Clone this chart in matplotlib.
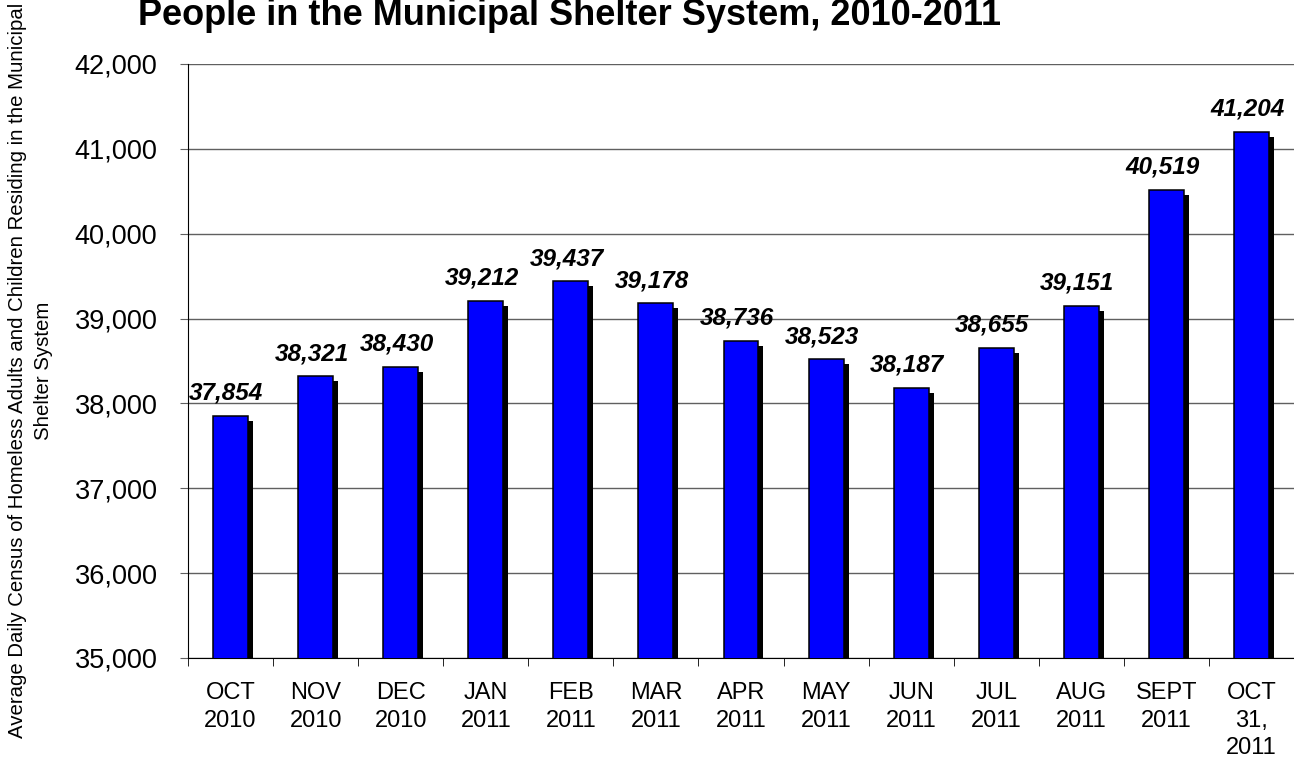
import matplotlib
matplotlib.use("Agg")
import matplotlib.pyplot as plt
import matplotlib.patheffects as pe
from matplotlib.ticker import FuncFormatter, FixedLocator
import numpy as np

months = ["OCT\n2010", "NOV\n2010", "DEC\n2010", "JAN\n2011", "FEB\n2011",
          "MAR\n2011", "APR\n2011", "MAY\n2011", "JUN\n2011", "JUL\n2011",
          "AUG\n2011", "SEPT\n2011", "OCT\n31,\n2011"]
census = [37854, 38321, 38430, 39212, 39437, 39178, 38736, 38523,
          38187, 38655, 39151, 40519, 41204]

title = "People in the Municipal Shelter System, 2010-2011"
ylabel = ("Average Daily Census of Homeless Adults and Children Residing in the Municipal\n"
          "Shelter System")

plt.rcParams['font.family'] = ['Liberation Sans', 'DejaVu Sans']

fig = plt.figure(figsize=(12.94, 7.59), dpi=100)
ax = fig.add_axes([0.1453, 0.1331, 0.8547, 0.7826])

x = np.arange(len(months))
bars = ax.bar(x, census, width=0.41, color='#0000ff', edgecolor='black',
              linewidth=1.1, zorder=3)
# drop shadow, bottom right
for b in bars:
    b.set_path_effects([pe.SimplePatchShadow(offset=(3.6, -3.6), shadow_rgbFace='black', alpha=1.0),
                        pe.Normal()])

for i, v in zip(x, census):
    ax.annotate(f"{v:,}", xy=(i, v), xytext=(-3, 11.5), textcoords='offset points',
                ha='center', va='baseline', fontsize=17.5, fontweight='bold',
                fontstyle='italic', zorder=4)

ax.set_ylim(35000, 42000)
ax.set_xlim(-0.5, len(months) - 0.5)
ax.set_yticks(np.arange(35000, 42001, 1000))
ax.yaxis.set_major_formatter(FuncFormatter(lambda v, p: f"{int(v):,}"))
ax.yaxis.grid(True, color='#606060', linewidth=1.0, zorder=0)
ax.set_axisbelow(True)

ax.set_xticks(x)
ax.set_xticklabels(months, fontsize=17, linespacing=1.35)
ax.xaxis.set_minor_locator(FixedLocator(np.arange(-0.5, len(months), 1.0)))
ax.tick_params(axis='x', which='major', length=0, pad=17)
ax.tick_params(axis='x', which='minor', length=6, direction='out', color='black')
ax.tick_params(axis='y', length=6, direction='out', labelsize=19.5, pad=16, color='#606060')

ax.spines['top'].set_visible(False)
ax.spines['right'].set_visible(False)
ax.spines['left'].set_color('black')
ax.spines['bottom'].set_color('black')

fig.text(0.44, 1 - 25 / 759, title, ha='center', va='baseline',
         fontsize=26, fontweight='bold')
fig.text(0.0235, 0.512, ylabel, rotation=90, ha='center', va='center',
         fontsize=14.7, multialignment='center', linespacing=1.45)

fig.savefig("out.png", dpi=100)
